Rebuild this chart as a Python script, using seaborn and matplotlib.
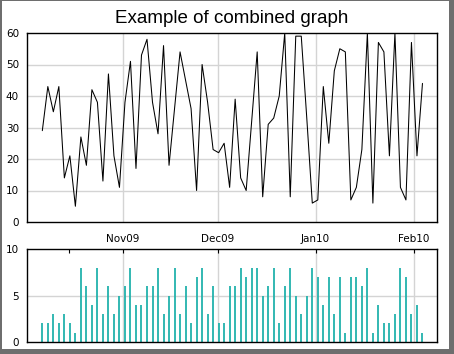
import numpy as np
import pandas as pd
import matplotlib
matplotlib.use("Agg")
import matplotlib.pyplot as plt
import matplotlib.dates as mdates
from matplotlib.patches import Rectangle
import seaborn as sns

# ---- data ----
start_date = "2009-10-06 14:00"
end_date = "2010-02-03 19:00"
n_points = 70
line_values = [29, 43, 35, 43, 14, 21, 5, 27, 18, 42,
               38, 13, 47, 21, 11, 38, 51, 17, 53, 58,
               38, 28, 56, 18, 36, 54, 45, 36, 10, 50,
               38, 23, 22, 25, 11, 39, 14, 10, 32, 54,
               8, 31, 33, 40, 60, 8, 59, 59, 33, 6,
               7, 43, 25, 48, 55, 54, 7, 11, 23, 60,
               6, 57, 54, 21, 60, 11, 7, 57, 21, 44]
bar_values = [2, 2, 3, 2, 3, 2, 1, 8, 6, 4,
              8, 3, 6, 3, 5, 6, 8, 4, 4, 6,
              6, 8, 3, 5, 8, 3, 6, 2, 7, 8,
              3, 6, 2, 2, 6, 6, 8, 7, 8, 8,
              5, 6, 8, 2, 6, 8, 5, 3, 5, 8,
              7, 4, 7, 3, 7, 1, 7, 7, 6, 8,
              1, 4, 2, 2, 3, 8, 7, 3, 4, 1]
month_ticks = ["2009-11-01", "2009-12-01", "2010-01-01", "2010-02-01"]
month_labels = ["Nov09", "Dec09", "Jan10", "Feb10"]
extra_tick = "2009-10-15"
title = "Example of combined graph"

dates = pd.date_range(start=start_date, end=end_date, periods=n_points)
df = pd.DataFrame({"date": dates, "value": line_values, "count": bar_values})

sns.set_theme(style="white")
plt.rcParams["font.family"] = ["DejaVu Sans"]

W, H = 454, 354
fig = plt.figure(figsize=(W / 100, H / 100), dpi=100)
fig.patch.set_facecolor("#6e6e6e")
fig.add_artist(Rectangle((2 / W, 5 / H), 447 / W, 348 / H, transform=fig.transFigure,
                         facecolor="white", edgecolor="none", zorder=0))

xmin = pd.Timestamp("2009-10-01 20:00")
xmax = pd.Timestamp("2010-02-08 07:00")
grid_col = "#d4d4d4"
tick_pos = [pd.Timestamp(t) for t in month_ticks]

# ---- top: line chart ----
ax1 = fig.add_axes([27.3 / W, 1 - 222 / H, 409.4 / W, 189 / H])
ax1.set_facecolor("none")
sns.lineplot(data=df, x="date", y="value", ax=ax1, color="black", linewidth=0.75)
ax1.set_xlim(xmin, xmax)
ax1.set_ylim(0, 60)
ax1.set_xlabel("")
ax1.set_ylabel("")
ax1.set_yticks(np.arange(0, 61, 10))
ax1.set_yticks(np.arange(0, 61, 5), minor=True)
ax1.set_xticks(tick_pos)
ax1.set_xticklabels(month_labels)
ax1.set_xticks([pd.Timestamp(extra_tick)], minor=True)
for t in tick_pos:
    ax1.axvline(t, color=grid_col, linewidth=1, zorder=0)
for v in range(10, 60, 10):
    ax1.axhline(v, color=grid_col, linewidth=1, zorder=0)
ax1.tick_params(axis="both", which="both", direction="in", labelsize=7.5,
                colors="black", top=False, right=False)
ax1.tick_params(axis="y", which="major", length=3, width=0.8, pad=6)
ax1.tick_params(axis="y", which="minor", length=3, width=0.8)
ax1.tick_params(axis="x", which="both", length=4, width=0.8, pad=9)
for s in ax1.spines.values():
    s.set_color("black")
    s.set_linewidth(1.0)
ax1.set_title(title, fontsize=13.5, family=["Liberation Sans"], pad=7, color="black")

# ---- bottom: bar chart ----
ax2 = fig.add_axes([27.3 / W, 1 - 342 / H, 409.4 / W, 93 / H])
ax2.set_facecolor("none")
ax2.vlines(df["date"], 0, df["count"], color="#22b2ac", linewidth=1.3)
ax2.set_xlim(xmin, xmax)
ax2.set_ylim(0, 10)
ax2.set_yticks([0, 5, 10])
ax2.set_yticks(np.arange(0, 11, 1), minor=True)
ax2.set_xticks(tick_pos)
ax2.set_xticks([pd.Timestamp(extra_tick)], minor=True)
ax2.set_xticklabels([])
for t in tick_pos:
    ax2.axvline(t, color=grid_col, linewidth=1, zorder=0)
ax2.axhline(5, color=grid_col, linewidth=1, zorder=0)
ax2.tick_params(axis="both", which="both", direction="in", labelsize=7.5, colors="black")
ax2.tick_params(axis="x", which="both", bottom=False, top=True, labelbottom=False,
                length=3, width=0.8)
ax2.tick_params(axis="y", which="both", length=3, width=0.8, pad=6)
for s in ax2.spines.values():
    s.set_color("black")
    s.set_linewidth(1.0)

fig.savefig("out.png", dpi=100, facecolor=fig.get_facecolor())
